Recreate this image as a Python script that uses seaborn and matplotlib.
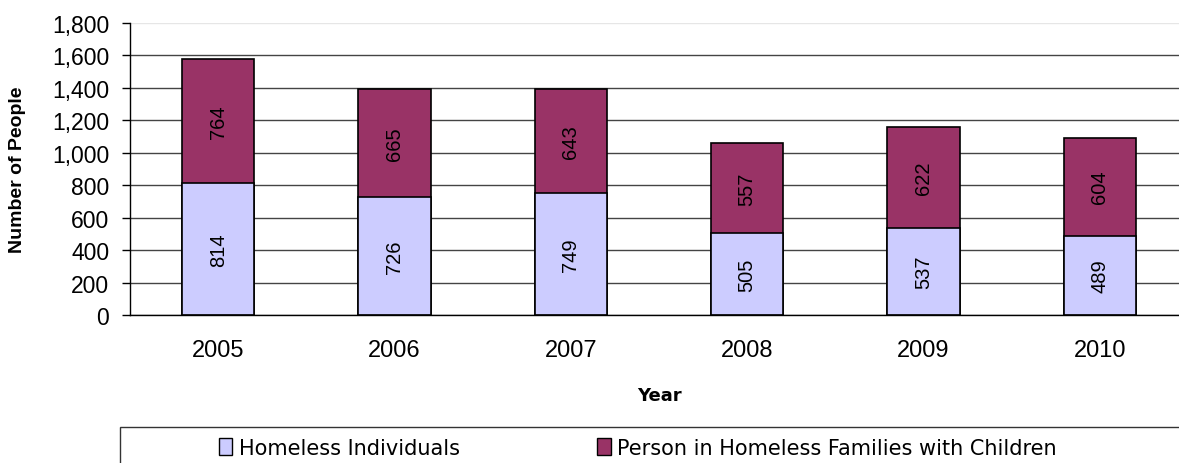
import numpy as np
import pandas as pd
import matplotlib
matplotlib.use("Agg")
import matplotlib.pyplot as plt
import seaborn as sns
from matplotlib.patches import Patch, Rectangle

years = ["2005", "2006", "2007", "2008", "2009", "2010"]
individuals = [814, 726, 749, 505, 537, 489]
families = [764, 665, 643, 557, 622, 604]

ind_color = "#CCCCFF"
fam_color = "#993366"

sns.set_style("white")
plt.rcParams["font.family"] = ["Liberation Sans", "DejaVu Sans"]
plt.rcParams["text.color"] = "black"
plt.rcParams["xtick.color"] = "black"
plt.rcParams["ytick.color"] = "black"
plt.rcParams["axes.labelcolor"] = "black"

df = pd.DataFrame({"Year": years, "Individuals": individuals, "Families": families})
df["Total"] = df["Individuals"] + df["Families"]

fig = plt.figure(figsize=(11.79, 4.64), dpi=100)
ax = fig.add_axes([130 / 1179, 1 - 316 / 464, (1188 - 130) / 1179, (316 - 24) / 464])

# gridlines behind bars
ax.set_axisbelow(True)
ax.yaxis.grid(True, color="#444444", linewidth=1)

# total (families stacked on top) then individuals overlaid from zero
sns.barplot(data=df, x="Year", y="Total", color=fam_color, width=0.41,
            edgecolor="black", linewidth=1.2, saturation=1, ax=ax)
sns.barplot(data=df, x="Year", y="Individuals", color=ind_color, width=0.41,
            edgecolor="black", linewidth=1.2, saturation=1, ax=ax)

for i, (a, b) in enumerate(zip(individuals, families)):
    ax.text(i, a / 2, str(a), rotation=90, ha="center", va="center", fontsize=14.5)
    ax.text(i, a + b / 2, str(b), rotation=90, ha="center", va="center", fontsize=14.5)

ax.set_ylim(0, 1800)
ax.set_xlim(-0.5, 5.5)
ax.set_yticks(np.arange(0, 1801, 200))
ax.set_yticklabels([f"{v:,}" for v in range(0, 1801, 200)], fontsize=16.5)
ax.get_ygridlines()[-1].set_color("#e6e6e6")

ax.set_xticks(np.arange(len(years)))
ax.set_xticklabels(years, fontsize=17)
ax.set_xticks(np.arange(-0.5, 6, 1), minor=True)
ax.tick_params(axis="x", which="major", length=0, pad=17)
ax.tick_params(axis="x", which="minor", length=6, width=1, color="black", direction="out")
ax.tick_params(axis="y", length=6, width=1, color="black", direction="out", left=True, pad=9)

for s in ["top", "right"]:
    ax.spines[s].set_visible(False)
for s in ["left", "bottom"]:
    ax.spines[s].set_color("black")
    ax.spines[s].set_linewidth(1)

ax.set_ylabel("")
fig.text(18 / 1179, 1 - 170 / 464, "Number of People", rotation=90, ha="center",
         va="center", fontsize=14, fontweight="bold")
ax.set_xlabel("Year", fontsize=13, fontweight="bold", family="DejaVu Sans", labelpad=18)

# legend box
fig.patches.append(Rectangle((120 / 1179, -0.1), 1.0, 0.1 + 1 - 428 / 464,
                             transform=fig.transFigure, fill=False,
                             edgecolor="#333333", linewidth=1))
handles = [Patch(facecolor=ind_color, edgecolor="black", label="Homeless Individuals"),
           Patch(facecolor=fam_color, edgecolor="black", label="Person in Homeless Families with Children")]
fig.legend(handles=handles, loc="center left", bbox_to_anchor=(200 / 1179, 1 - 449 / 464),
           ncol=2, frameon=False, handlelength=0.65, handleheight=0.85,
           handletextpad=0.3, columnspacing=6.6, prop={"family": "DejaVu Sans", "size": 15})

fig.savefig("out.png", dpi=100)
